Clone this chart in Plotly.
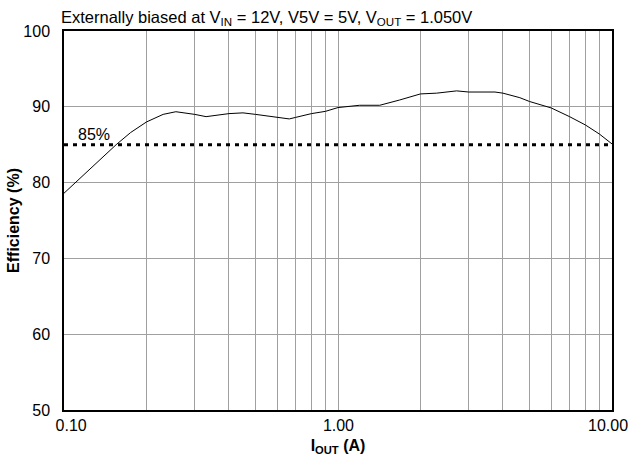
import plotly.graph_objects as go

# Data
iout = [0.10, 0.12, 0.155, 0.175, 0.2, 0.23, 0.256, 0.3, 0.33, 0.4, 0.45, 0.5, 0.6, 0.664,
        0.7, 0.8, 0.9, 1.0, 1.2, 1.42, 1.68, 2.0, 2.29, 2.71, 3.0, 3.74, 4.0, 4.61,
        5.0, 6.0, 7.0, 8.0, 9.0, 10.0]
efficiency = [78.6, 81.3, 85.0, 86.6, 88.0, 89.0, 89.35, 89.0, 88.7, 89.1, 89.2, 89.0, 88.65, 88.4,
              88.6, 89.1, 89.4, 89.9, 90.2, 90.2, 90.9, 91.7, 91.8, 92.1, 91.95, 91.95, 91.8, 91.2,
              90.7, 89.85, 88.7, 87.6, 86.4, 85.1]
ref_x = [0.10, 10.0]
ref_y = [85, 85]
ref_label = "85%"

NB = "\u00a0"
x_tickvals = [0.1, 1, 10]
x_ticktext = [NB * 5 + "0.10", NB * 2 + "1.00", "10.00"]
x_minor = [0.2, 0.3, 0.4, 0.5, 0.6, 0.7, 0.8, 0.9, 2, 3, 4, 5, 6, 7, 8, 9]
y_tickvals = [50, 60, 70, 80, 90, 100]

FONT = "Liberation Sans, Arial, sans-serif"
GRID = "#a0a0a0"

fig = go.Figure()
fig.add_trace(go.Scatter(x=ref_x, y=ref_y, mode="lines",
                         line=dict(color="black", width=3, dash="4px,5px"),
                         hoverinfo="skip", showlegend=False))
fig.add_trace(go.Scatter(x=iout, y=efficiency, mode="lines",
                         line=dict(color="black", width=1), showlegend=False))

fig.add_annotation(x=-0.89, y=85, xref="x", yref="y", text=ref_label, showarrow=False,
                   xanchor="center", yanchor="bottom", yshift=0,
                   font=dict(family=FONT, size=16, color="black"))

fig.add_annotation(x=0, y=1, xref="paper", yref="paper",
                   text="Externally biased at V<sub>IN</sub> = 12V, V5V = 5V, V<sub>OUT</sub> = 1.050V",
                   showarrow=False, xanchor="left", yanchor="bottom", xshift=-5, yshift=1,
                   font=dict(family=FONT, size=16.5, color="black"))

fig.update_layout(
    width=629, height=456,
    margin=dict(l=64, r=17, t=31, b=46, autoexpand=False),
    paper_bgcolor="white", plot_bgcolor="white",
    font=dict(family=FONT, size=16, color="black"),
    xaxis=dict(type="log", range=[-1, 1], tickvals=x_tickvals, ticktext=x_ticktext,
               showgrid=True, gridcolor=GRID, gridwidth=1,
               minor=dict(tickvals=x_minor, showgrid=True, gridcolor=GRID, gridwidth=1),
               showline=True, linecolor="black", linewidth=1.5, mirror=True,
               ticks="", zeroline=False, ticklabeloverflow="allow", automargin=True,
               ticklabelshift=-4,
               title=dict(text="<b>I<sub>OUT</sub> (A)</b>", font=dict(family=FONT, size=16), standoff=8)),
    yaxis=dict(range=[50, 100], tickvals=y_tickvals,
               showgrid=True, gridcolor=GRID, gridwidth=1,
               showline=True, linecolor="black", linewidth=1.5, mirror=True,
               ticks="", zeroline=False, ticklabelstandoff=9, automargin=True,
               title=dict(text="<b>Efficiency (%)</b>", font=dict(family=FONT, size=16), standoff=0)),
)

fig.write_html("out.html")
